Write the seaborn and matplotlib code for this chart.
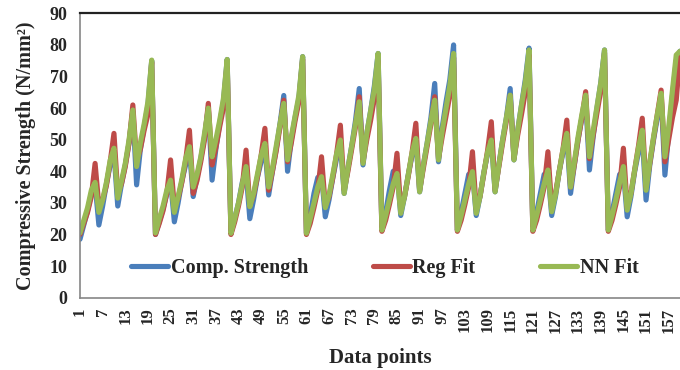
import numpy as np
import pandas as pd
import matplotlib
matplotlib.use("Agg")
import matplotlib.pyplot as plt
import seaborn as sns

# Measured compressive strength (N/mm²), 160 specimens
comp_strength = [
    18.5, 23.0, 27.5, 33.0, 36.0, 23.0, 29.0, 36.0, 42.0, 46.0,
    29.0, 36.0, 42.0, 49.0, 59.0, 35.7, 47.0, 54.0, 61.0, 75.0,
    20.0, 24.0, 28.0, 33.0, 37.0, 24.0, 30.0, 37.0, 42.0, 46.7,
    32.0, 38.0, 44.0, 51.0, 60.0, 37.2, 47.0, 55.0, 62.0, 75.4,
    20.4, 25.0, 30.0, 36.5, 40.0, 25.0, 31.0, 38.0, 43.0, 48.0,
    32.5, 40.0, 47.0, 55.0, 64.0, 40.0, 50.0, 57.0, 63.0, 76.3,
    20.4, 26.0, 33.0, 38.0, 39.0, 25.6, 31.0, 38.0, 44.0, 49.0,
    33.0, 41.0, 48.0, 56.0, 66.2, 42.0, 52.0, 59.0, 67.0, 77.3,
    21.4, 27.0, 34.0, 40.0, 40.5, 26.0, 32.0, 39.0, 45.0, 50.0,
    33.5, 42.0, 49.0, 57.0, 67.8, 43.0, 54.0, 62.0, 69.0, 80.0,
    21.4, 27.0, 33.0, 39.0, 40.0, 26.0, 32.0, 39.5, 45.5, 50.0,
    33.5, 42.0, 50.0, 57.0, 66.2, 43.6, 53.0, 61.0, 69.0, 79.0,
    21.4, 27.0, 33.0, 39.0, 40.0, 26.0, 32.0, 40.0, 46.0, 51.0,
    33.0, 42.0, 50.0, 57.0, 63.0, 40.4, 51.0, 60.0, 68.0, 78.4,
    21.4, 27.0, 33.0, 39.0, 40.0, 25.6, 32.0, 40.0, 46.0, 51.0,
    30.9, 42.0, 50.0, 57.0, 64.0, 38.8, 52.0, 64.0, 75.0, 78.0,
]

# Regression model predictions
reg_fit = [
    20.0, 23.5, 27.0, 32.0, 42.5, 29.0, 31.0, 35.5, 43.0, 52.0,
    33.0, 36.0, 41.5, 49.0, 61.0, 43.0, 47.0, 53.0, 58.0, 74.5,
    20.0, 23.5, 27.5, 33.0, 43.6, 28.5, 31.5, 36.5, 43.5, 53.0,
    33.0, 37.0, 43.0, 50.0, 61.5, 42.0, 47.5, 54.0, 60.0, 74.5,
    20.0, 24.0, 29.0, 35.0, 46.7, 29.0, 32.5, 38.0, 45.0, 53.6,
    34.0, 40.0, 46.5, 54.0, 62.5, 43.0, 49.0, 56.0, 62.0, 75.5,
    20.0, 23.5, 28.5, 34.0, 44.6, 29.0, 32.0, 38.0, 45.5, 54.6,
    34.0, 40.0, 47.0, 54.0, 63.6, 43.0, 50.0, 56.0, 63.0, 75.0,
    21.0, 24.5, 29.5, 35.0, 45.7, 28.0, 32.0, 38.5, 46.0, 55.2,
    34.0, 41.0, 48.0, 55.0, 63.6, 44.0, 51.0, 57.5, 64.0, 76.0,
    21.0, 24.5, 29.5, 35.0, 46.2, 28.0, 32.0, 39.0, 46.5, 55.7,
    34.0, 41.5, 49.0, 56.0, 64.0, 44.0, 51.5, 58.0, 65.0, 77.0,
    21.0, 24.5, 29.5, 35.0, 46.2, 28.5, 33.0, 40.0, 47.0, 56.2,
    35.0, 42.0, 50.0, 57.0, 65.2, 44.0, 51.5, 58.5, 65.5, 77.5,
    21.0, 24.5, 29.5, 35.0, 47.3, 28.5, 33.0, 40.5, 48.0, 56.8,
    35.0, 42.5, 50.5, 58.0, 65.7, 43.0, 50.0, 57.0, 62.5, 77.0,
]

# Neural network predictions
nn_fit = [
    20.5, 24.5, 28.5, 34.0, 36.5, 27.0, 31.0, 36.5, 43.5, 47.3,
    31.5, 37.0, 42.5, 50.0, 59.4, 41.5, 49.0, 55.0, 62.0, 75.2,
    20.5, 25.0, 29.0, 34.0, 37.2, 27.0, 32.0, 37.5, 44.0, 47.8,
    35.0, 39.0, 44.5, 52.0, 60.0, 44.6, 50.0, 56.0, 63.0, 75.4,
    20.4, 25.0, 30.0, 36.0, 41.5, 28.8, 33.0, 39.0, 45.0, 48.8,
    35.0, 41.0, 48.0, 55.0, 61.5, 43.6, 51.0, 57.5, 64.0, 76.3,
    20.4, 25.0, 30.0, 35.0, 38.3, 28.5, 32.5, 39.0, 45.5, 49.9,
    33.0, 41.0, 48.0, 55.0, 62.0, 42.5, 52.0, 59.0, 66.0, 77.3,
    21.4, 26.0, 31.0, 36.0, 39.3, 26.7, 32.0, 39.0, 46.0, 50.4,
    33.5, 42.0, 49.0, 56.0, 62.5, 43.6, 53.0, 60.0, 67.0, 77.3,
    21.4, 26.0, 31.0, 36.0, 39.9, 26.7, 32.0, 39.5, 46.0, 49.9,
    33.5, 42.0, 50.0, 57.0, 64.1, 43.6, 53.0, 61.0, 68.0, 78.4,
    21.4, 26.0, 31.0, 36.0, 40.4, 27.2, 32.5, 40.0, 47.0, 52.0,
    35.0, 43.0, 51.0, 58.0, 64.1, 44.6, 53.0, 60.5, 68.0, 78.4,
    21.4, 26.0, 31.0, 36.5, 41.5, 27.7, 33.0, 40.5, 47.5, 53.0,
    34.0, 43.0, 51.0, 58.0, 64.7, 44.6, 54.0, 65.7, 76.8, 78.0,
]

series_names = ["Comp. Strength", "Reg Fit", "NN Fit"]
series_colors = ["#4A7EBB", "#BE4B48", "#98B954"]
y_ticks = list(range(0, 100, 10))

points = np.arange(1, len(comp_strength) + 1)
df = pd.concat([
    pd.DataFrame({"point": points, "value": vals, "series": name})
    for name, vals in zip(series_names, [comp_strength, reg_fit, nn_fit])
], ignore_index=True)

sns.set_style("white")
plt.rcParams["font.family"] = ["Liberation Serif", "DejaVu Serif"]
plt.rcParams["font.weight"] = "bold"

fig = plt.figure(figsize=(6.8, 3.7), dpi=100)
ax = fig.add_axes([80 / 680, 1 - 297.7 / 370, 600 / 680, 284.4 / 370])

sns.lineplot(data=df, x="point", y="value", hue="series",
             hue_order=series_names, palette=series_colors,
             linewidth=3.7, legend=False, ax=ax, sort=False)
for ln in ax.get_lines():
    ln.set_solid_joinstyle("round")
    ln.set_solid_capstyle("round")

ax.set_xlim(1, 159.3)
ax.set_ylim(0, 90)
ax.set_yticks(y_ticks)
ax.set_yticklabels([str(v) for v in y_ticks], fontsize=13, fontweight="bold")

ax.set_xticks(points)
ax.set_xticklabels([str(p) if (p - 1) % 6 == 0 else "" for p in points],
                   rotation=90, fontsize=12, fontweight="bold")

gray = "#868686"
for side in ["left", "bottom"]:
    ax.spines[side].set_color(gray)
    ax.spines[side].set_linewidth(1.2)
ax.spines["right"].set_visible(False)
ax.spines["top"].set_color("#222222")
ax.spines["top"].set_linewidth(1.6)
ax.tick_params(axis="y", direction="out", length=5, width=1, color=gray, pad=4)
ax.tick_params(axis="x", direction="out", length=4, width=0.6, color=gray, pad=3)

ax.set_xlabel("Data points", fontsize=15, fontweight="bold", labelpad=11)
ax.set_ylabel("Compressive Strength (N/mm²)", fontsize=14.5, fontweight="bold", labelpad=10)

handles = [plt.Line2D([], [], color=c, lw=3.7) for c in series_colors]
ax.legend(handles, series_names, loc="center", bbox_to_anchor=(0.508, 0.106),
          ncol=3, frameon=False, handlelength=1.85, handletextpad=0.12,
          columnspacing=3.2, prop={"family": "Liberation Serif", "weight": "bold", "size": 14.5})

fig.savefig("out.png", dpi=100)
